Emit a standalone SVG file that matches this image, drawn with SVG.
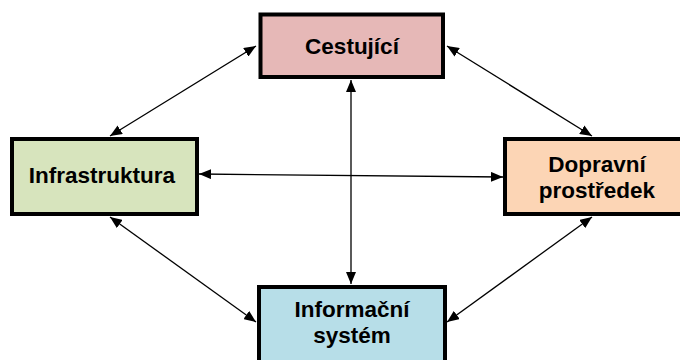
<svg xmlns="http://www.w3.org/2000/svg" width="680" height="360" viewBox="0 0 680 360">
<defs>
<marker id="ah" viewBox="0 0 12 10" refX="12" refY="5" markerWidth="12" markerHeight="10" markerUnits="userSpaceOnUse" orient="auto-start-reverse">
<path d="M0,0 L12,5 L0,10 z" fill="#000"/>
</marker>
<style>
.box{stroke:#000;stroke-width:4}
.t{font-family:"Liberation Sans",Arial,sans-serif;font-weight:bold;font-size:22.5px;fill:#000;text-anchor:middle}
.c{stroke:#000;stroke-width:1.3;fill:none;marker-start:url(#ah);marker-end:url(#ah)}
</style>
</defs>
<g id="connectors">
<line class="c" x1="256" y1="46" x2="110" y2="136"/>
<line class="c" x1="447" y1="46" x2="592" y2="136"/>
<line class="c" x1="199" y1="174" x2="503" y2="177"/>
<line class="c" x1="351" y1="80" x2="351" y2="284"/>
<line class="c" x1="110" y1="217" x2="256" y2="322"/>
<line class="c" x1="592" y1="217" x2="447" y2="322"/>
</g>
<g id="cestujici">
<rect class="box" x="260.5" y="14.5" width="182.5" height="62.5" fill="#e6b8b7"/>
<text class="t" x="352" y="54">Cestující</text>
</g>
<g id="infrastruktura">
<rect class="box" x="12" y="139" width="185" height="75" fill="#d7e4bd"/>
<text class="t" x="102" y="183">Infrastruktura</text>
</g>
<g id="dopravni">
<rect class="box" x="505" y="139" width="185" height="75" fill="#fcd5b5"/>
<text class="t" x="597" y="172">Dopravní</text>
<text class="t" x="597" y="198">prostředek</text>
</g>
<g id="informacni">
<rect class="box" x="259" y="287" width="186" height="80" fill="#b7dee8"/>
<text class="t" x="352" y="317">Informační</text>
<text class="t" x="352" y="343">systém</text>
</g>
</svg>
